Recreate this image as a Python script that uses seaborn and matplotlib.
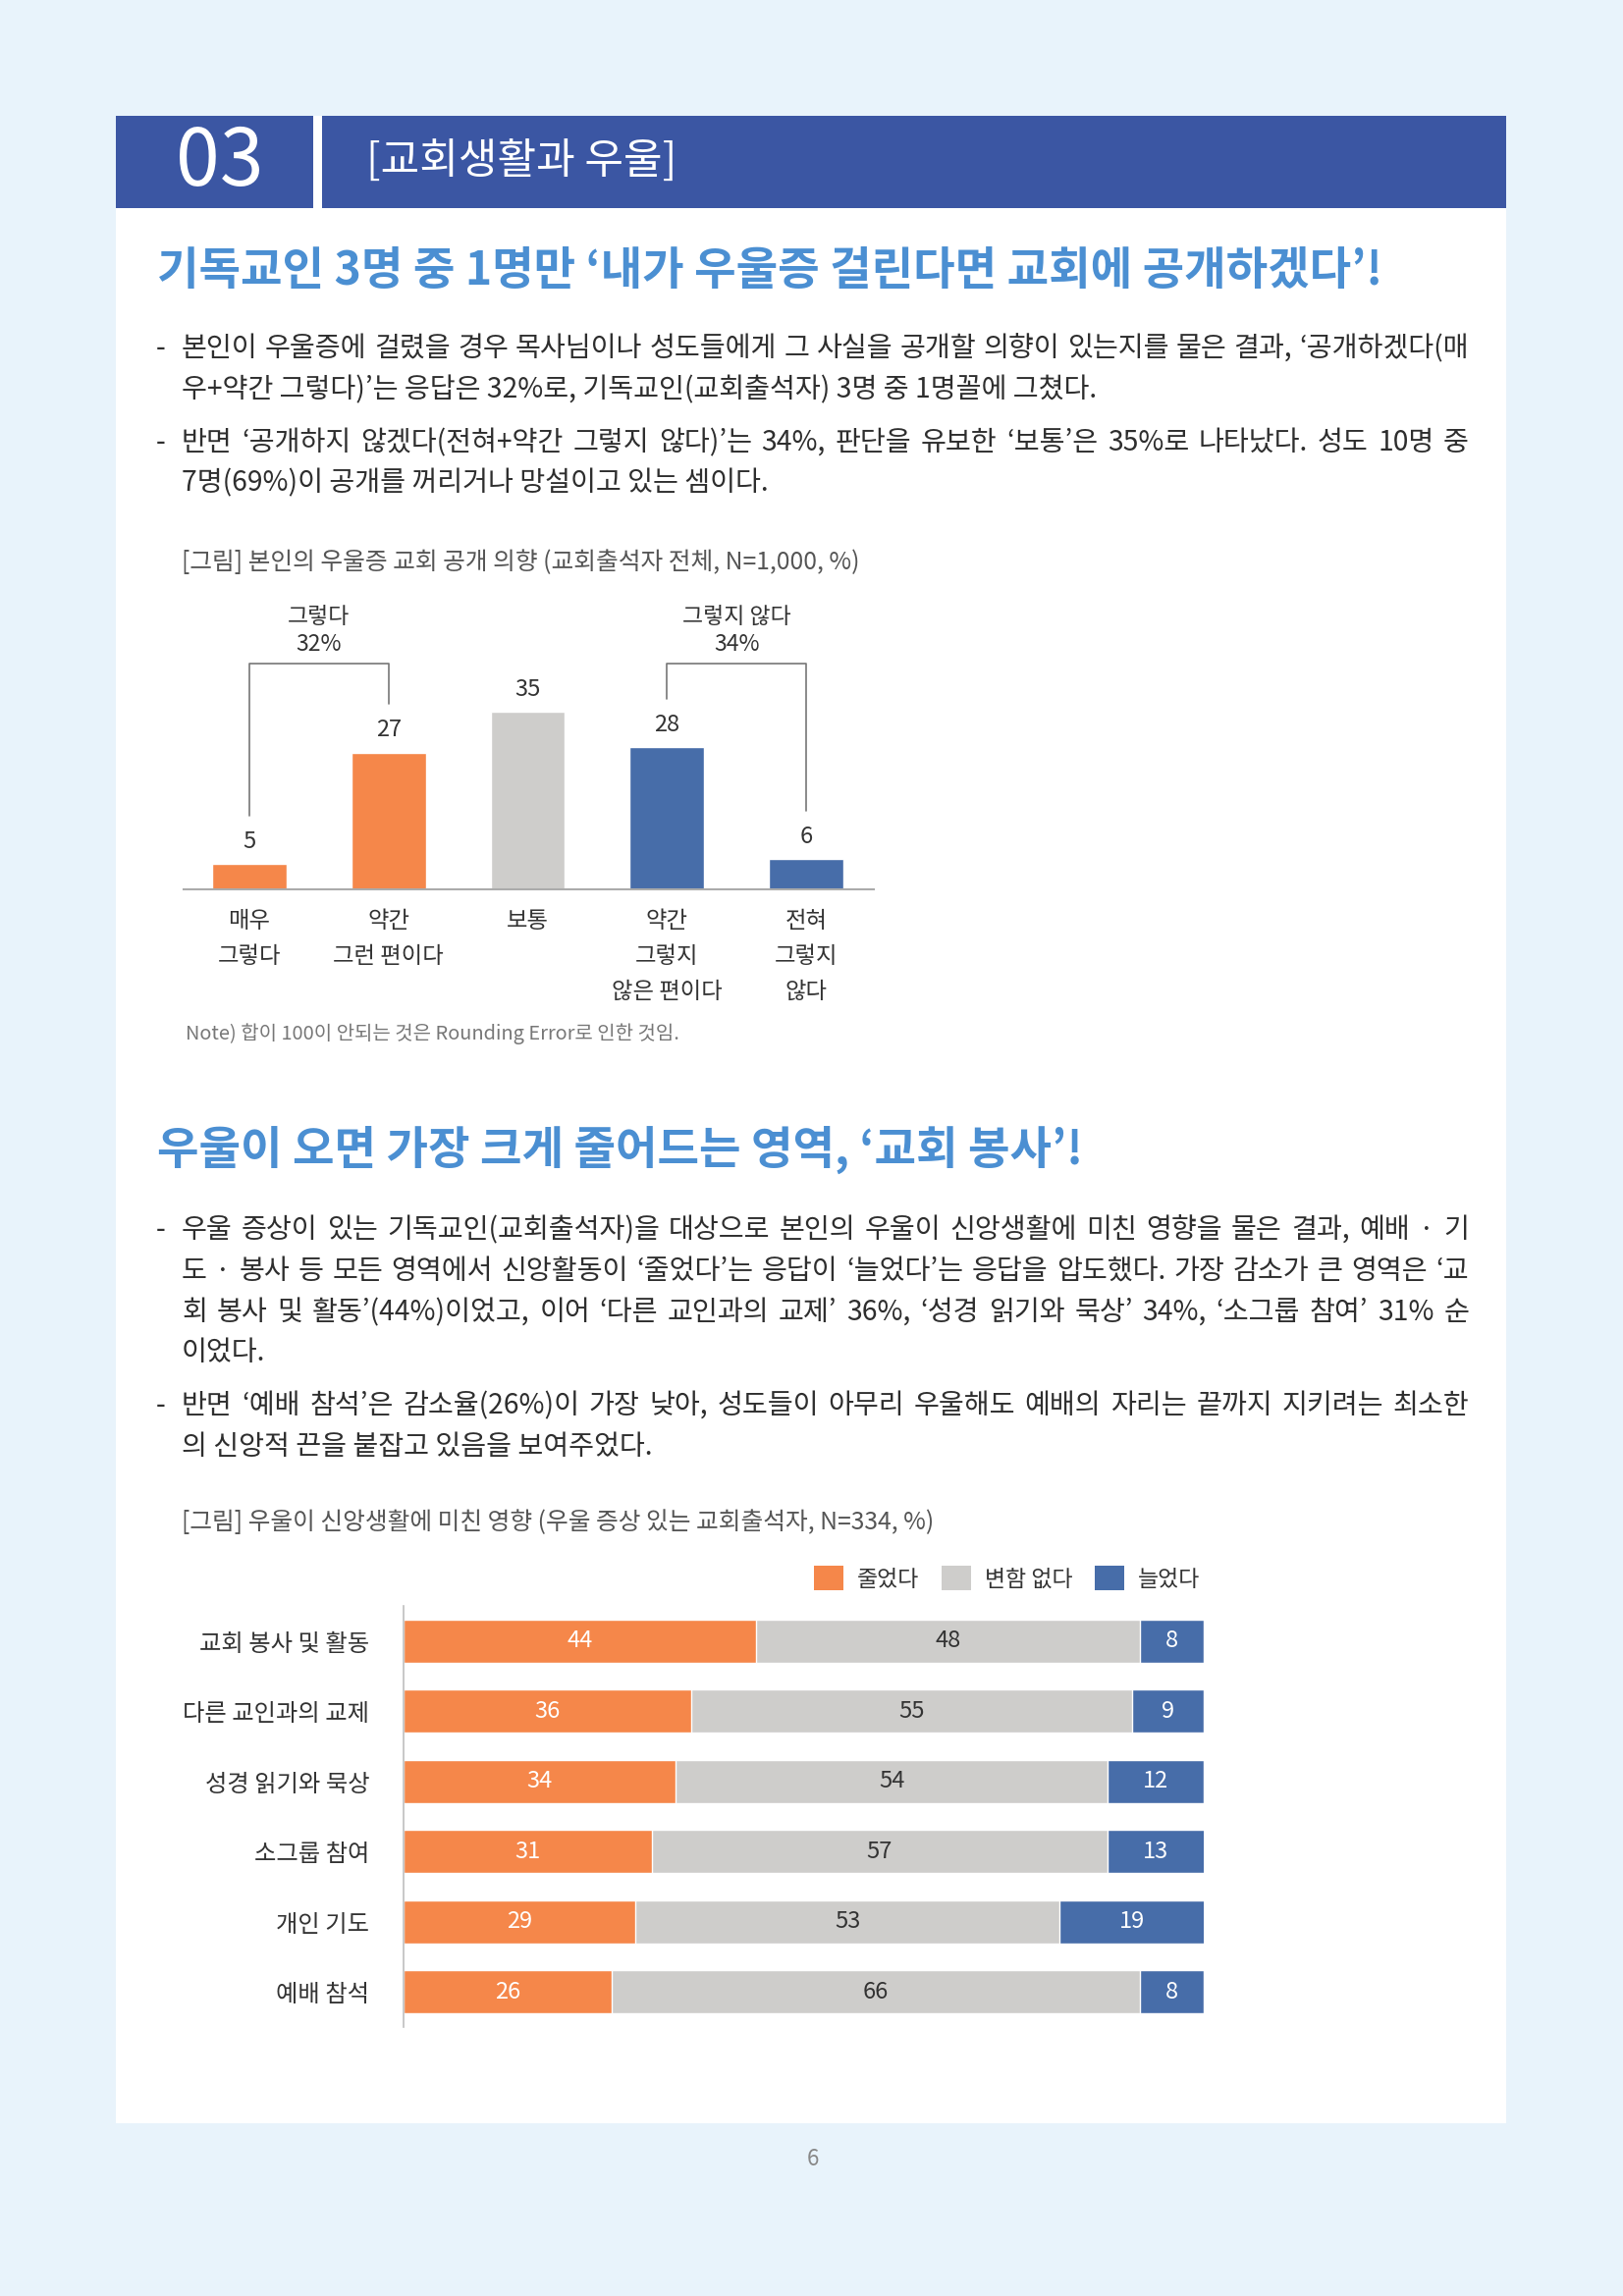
import matplotlib
matplotlib.use("Agg")
import matplotlib.pyplot as plt
import seaborn as sns
import pandas as pd
from matplotlib.patches import Rectangle, Patch

# ---- chart 1 data : 본인의 우울증 교회 공개 의향 ----
intentCats = ["매우\n그렇다", "약간\n그런 편이다", "보통", "약간\n그렇지\n않은 편이다", "전혀\n그렇지\n않다"]
intentValues = [5, 27, 35, 28, 6]
intentGroups = [(0, 1, "그렇다"), (3, 4, "그렇지 않다")]

# ---- chart 2 data : 우울이 신앙생활에 미친 영향 ----
areaCats = ["교회 봉사 및 활동", "다른 교인과의 교제", "성경 읽기와 묵상", "소그룹 참여", "개인 기도", "예배 참석"]
decreased = [44, 36, 34, 31, 29, 26]
unchanged = [48, 55, 54, 57, 53, 66]
increased = [8, 9, 12, 13, 19, 8]
legendLabels = ["줄었다", "변함 없다", "늘었다"]

# ---- page texts ----
sectionNo = "03"
sectionName = "[교회생활과 우울]"
title1 = "기독교인 3명 중 1명만 ‘내가 우울증 걸린다면 교회에 공개하겠다’!"
para1 = [
    ["본인이 우울증에 걸렸을 경우 목사님이나 성도들에게 그 사실을 공개할 의향이 있는지를 물은 결과, ‘공개하겠다(매",
     "우+약간 그렇다)’는 응답은 32%로, 기독교인(교회출석자) 3명 중 1명꼴에 그쳤다."],
    ["반면 ‘공개하지 않겠다(전혀+약간 그렇지 않다)’는 34%, 판단을 유보한 ‘보통’은 35%로 나타났다. 성도 10명 중",
     "7명(69%)이 공개를 꺼리거나 망설이고 있는 셈이다."],
]
caption1 = "[그림] 본인의 우울증 교회 공개 의향 (교회출석자 전체, N=1,000, %)"
note1 = "Note) 합이 100이 안되는 것은 Rounding Error로 인한 것임."
title2 = "우울이 오면 가장 크게 줄어드는 영역, ‘교회 봉사’!"
para2 = [
    ["우울 증상이 있는 기독교인(교회출석자)을 대상으로 본인의 우울이 신앙생활에 미친 영향을 물은 결과, 예배 · 기",
     "도 · 봉사 등 모든 영역에서 신앙활동이 ‘줄었다’는 응답이 ‘늘었다’는 응답을 압도했다. 가장 감소가 큰 영역은 ‘교",
     "회 봉사 및 활동’(44%)이었고, 이어 ‘다른 교인과의 교제’ 36%, ‘성경 읽기와 묵상’ 34%, ‘소그룹 참여’ 31% 순",
     "이었다."],
    ["반면 ‘예배 참석’은 감소율(26%)이 가장 낮아, 성도들이 아무리 우울해도 예배의 자리는 끝까지 지키려는 최소한",
     "의 신앙적 끈을 붙잡고 있음을 보여주었다."],
]
caption2 = "[그림] 우울이 신앙생활에 미친 영향 (우울 증상 있는 교회출석자, N=334, %)"
pageNo = "6"

#colours
orange = "#F5874A"
grey = "#CECDCB"
blue = "#476DA9"
headBlue = "#3B56A3"
titleBlue = "#4B8FD2"
textColor = "#2E2E2E"

sns.set_style("white")
plt.rcParams['font.family'] = ['Noto Sans CJK KR', 'DejaVu Sans']

W, H = 1653, 2339
fig = plt.figure(figsize=(W / 100, H / 100), dpi=100, facecolor="#E8F3FB")
renderer = fig.canvas.get_renderer()


def fx(px):
    return px / W


def fy(py):
    return 1 - py / H


def addRect(x0, y0, x1, y1, color):
    fig.add_artist(Rectangle((fx(x0), fy(y1)), (x1 - x0) / W, (y1 - y0) / H,
                             transform=fig.transFigure, facecolor=color, edgecolor="none", zorder=0))


def textWidth(s, size):
    t = fig.text(0, 0, s, fontsize=size)
    w = t.get_window_extent(renderer).width
    t.remove()
    return w


#writes one line of a paragraph, spreading the words over the full width when asked
def drawLine(x, y, line, size, justify, right=1496):
    if not justify:
        fig.text(fx(x), fy(y), line, ha="left", va="center", fontsize=size, color=textColor)
        return
    words = line.split(" ")
    widths = [textWidth(w, size) for w in words]
    gap = (right - x - sum(widths)) / (len(words) - 1)
    pos = x
    for w, wd in zip(words, widths):
        fig.text(fx(pos), fy(y), w, ha="left", va="center", fontsize=size, color=textColor)
        pos += wd + gap


def drawParagraphs(paras, lineYs, size=20.3):
    for lines, ys in zip(paras, lineYs):
        fig.text(fx(159), fy(ys[0]), "-", ha="left", va="center", fontsize=size, color=textColor)
        for k, (line, y) in enumerate(zip(lines, ys)):
            drawLine(185, y, line, size, k < len(lines) - 1)


#white page and header band
addRect(118, 118, 1534, 2163, "white")
addRect(118, 118, 319, 212, headBlue)
addRect(328, 118, 1534, 212, headBlue)
fig.text(fx(224), fy(166), sectionNo, ha="center", va="center", fontsize=58, color="white")
fig.text(fx(373), fy(166), sectionName, ha="left", va="center", fontsize=31, color="white")

#first block of text
fig.text(fx(160), fy(276), title1, ha="left", va="center", fontsize=33.3, fontweight="bold", color=titleBlue)
drawParagraphs(para1, [[355, 397], [451, 492]])
fig.text(fx(185), fy(573), caption1, ha="left", va="center", fontsize=17.8, color="#555555")

# ---- chart 1 ----
ax1 = fig.add_axes([fx(187), fy(906), (890 - 187) / W, (906 - 596) / H])
df1 = pd.DataFrame({"cat": intentCats, "value": intentValues})
intentColors = [orange, orange, grey, blue, blue]
sns.barplot(data=df1, x="cat", y="value", hue="cat", palette=intentColors, width=0.536,
            saturation=1, legend=False, ax=ax1)
for c in ax1.containers:
    ax1.bar_label(c, padding=8, fontsize=17, color="#333333")
ax1.set_xlim(-0.473, 4.487)
ax1.set_ylim(0, 60)
ax1.set_xlabel("")
ax1.set_ylabel("")
ax1.set_yticks([])
ax1.tick_params(axis="x", length=0, pad=15, labelsize=16.8, labelcolor="#333333")
for lbl in ax1.get_xticklabels():
    lbl.set_linespacing(1.72)
for s in ["top", "right", "left"]:
    ax1.spines[s].set_visible(False)
ax1.spines["bottom"].set_color("#ABABAB")
ax1.spines["bottom"].set_linewidth(1.5)
ax1.patch.set_alpha(0)

#brackets over the grouped answers
for i0, i1, name in intentGroups:
    ax1.plot([i0, i0, i1, i1], [intentValues[i0] + 9.5, 44.5, 44.5, intentValues[i1] + 9.5],
             color="#777777", lw=1.2, clip_on=False)
    share = intentValues[i0] + intentValues[i1]
    ax1.text((i0 + i1) / 2, 48.3, f"{share}%", ha="center", va="center", fontsize=16.5, color="#333333")
    ax1.text((i0 + i1) / 2, 53.8, name, ha="center", va="center", fontsize=16.5, color="#333333")

fig.text(fx(189), fy(1053), note1, ha="left", va="center", fontsize=14.4, color="#777777")

#second block of text
fig.text(fx(160), fy(1171), title2, ha="left", va="center", fontsize=33.3, fontweight="bold", color=titleBlue)
drawParagraphs(para2, [[1253, 1295, 1337, 1378], [1432, 1474]])
fig.text(fx(185), fy(1551), caption2, ha="left", va="center", fontsize=17.8, color="#555555")

# ---- chart 2 : stacked horizontal bars ----
ax2 = fig.add_axes([fx(411), fy(2065), (1226 - 411) / W, (2065 - 1636) / H])
df2 = pd.DataFrame({"area": areaCats, "dec": decreased, "unc": unchanged, "inc": increased})
df2["decEnd"] = df2["dec"]
df2["uncEnd"] = df2["dec"] + df2["unc"]
df2["incEnd"] = df2["uncEnd"] + df2["inc"]
for col, color in [("incEnd", blue), ("uncEnd", grey), ("decEnd", orange)]:
    sns.barplot(data=df2, x=col, y="area", color=color, width=0.62, saturation=1, orient="h", ax=ax2)
ax2.set_xlim(0, 100)
ax2.set_ylim(5.5, -0.5)
for i, row in df2.iterrows():
    ax2.text(row["dec"] / 2, i, str(row["dec"]), ha="center", va="center", fontsize=17, color="white")
    ax2.text(row["dec"] + row["unc"] / 2, i, str(row["unc"]), ha="center", va="center", fontsize=17, color="#333333")
    incMid = (row["uncEnd"] + min(row["incEnd"], 100)) / 2
    ax2.text(incMid, i, str(row["inc"]), ha="center", va="center", fontsize=17, color="white")
ax2.set_xlabel("")
ax2.set_ylabel("")
ax2.set_xticks([])
ax2.tick_params(axis="y", length=0, pad=25, labelsize=17.5, labelcolor="#333333")
for s in ["top", "right", "bottom"]:
    ax2.spines[s].set_visible(False)
ax2.spines["left"].set_color("#BFBFBF")
ax2.spines["left"].set_linewidth(1.2)
ax2.patch.set_alpha(0)

handles = [Patch(facecolor=c, edgecolor="none") for c in [orange, grey, blue]]
fig.legend(handles, legendLabels, loc="center right", bbox_to_anchor=(fx(1222), fy(1608)), ncol=3,
           frameon=False, fontsize=16.5, handlelength=1.3, handleheight=1.3, handletextpad=0.6,
           columnspacing=1.0, borderpad=0, borderaxespad=0, labelcolor="#333333")

fig.text(fx(828), fy(2199), pageNo, ha="center", va="center", fontsize=16, color="#888888")

plt.savefig("out.png", dpi=100, facecolor=fig.get_facecolor())
